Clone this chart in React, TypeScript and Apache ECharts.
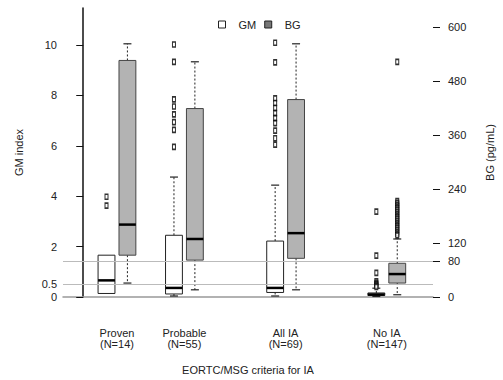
import React, { useEffect, useRef } from "react";
import * as echarts from "echarts";

// ---- data ----
const categoryNames = ["Proven", "Probable", "All IA", "No IA"];
const categoryN = [14, 55, 69, 147];
const categoryPos = [1, 3, 6, 9];

// GM index boxes
const gmLow = [0.14, 0.04, 0.04, 0.02];
const gmQ1 = [0.14, 0.12, 0.18, 0.06];
const gmMed = [0.66, 0.36, 0.36, 0.1];
const gmQ3 = [1.66, 2.45, 2.22, 0.16];
const gmHigh = [1.66, 4.76, 4.44, 0.35];
const gmOutliers = [
  [3.98, 3.63],
  [10.02, 9.33, 7.84, 7.56, 7.25, 6.94, 6.63, 5.96],
  [10.09, 9.31, 7.88, 7.7, 7.5, 7.3, 7.1, 6.9, 6.6, 6.3, 6.05],
  [3.39, 1.64, 0.96, 0.62, 0.55, 0.5, 0.45, 0.4],
];

// BG (pg/mL) boxes
const bgLow = [31, 16, 16, 5];
const bgQ1 = [93, 82, 86, 31];
const bgMed = [161, 129, 142, 51];
const bgQ3 = [526, 419, 439, 75];
const bgHigh = [563, 523, 563, 129];
const bgOutliers = [
  [],
  [],
  [],
  [523, 213, 209, 205, 201, 197, 193, 189, 185, 181, 177, 173, 169, 165, 161, 157, 153, 149, 145, 141, 137],
];

const gmTickLabels = [0, 0.5, 2, 4, 6, 8, 10];
const gmTicks = [0, 2, 4, 6, 8, 10];
const bgTicks = [0, 80, 120, 240, 360, 480, 600];
const gmCutoff = 0.5;
const bgCutoff = 80;

const FONT = "Liberation Sans, Arial, sans-serif";
const GM_MAX = 11.47;
const BG_MAX = 642.6;
const OFFSET = 0.31;

function makeRender(fill: string, stroke: string) {
  return (params: any, api: any) => {
    const x = api.value(0);
    const lo = api.coord([x, api.value(1)]);
    const q1 = api.coord([x, api.value(2)]);
    const md = api.coord([x, api.value(3)]);
    const q3 = api.coord([x, api.value(4)]);
    const hi = api.coord([x, api.value(5)]);
    const w = api.size([0.5, 0])[0];
    const cx = q1[0];
    const hw = w / 2;
    const cap = 4;
    const children: any[] = [];
    const dotted = { stroke: "#222", lineWidth: 1, lineDash: [2, 2] };
    const capStyle = { stroke: "#222", lineWidth: 1.2 };
    if (q3[1] - hi[1] > 0.5) {
      children.push({ type: "line", shape: { x1: cx, y1: q3[1], x2: cx, y2: hi[1] }, style: dotted });
      children.push({ type: "line", shape: { x1: cx - cap, y1: hi[1], x2: cx + cap, y2: hi[1] }, style: capStyle });
    }
    if (lo[1] - q1[1] > 0.5) {
      children.push({ type: "line", shape: { x1: cx, y1: q1[1], x2: cx, y2: lo[1] }, style: dotted });
      children.push({ type: "line", shape: { x1: cx - cap, y1: lo[1], x2: cx + cap, y2: lo[1] }, style: capStyle });
    }
    children.push({
      type: "rect",
      shape: { x: cx - hw, y: q3[1], width: w, height: q1[1] - q3[1] },
      style: { fill, stroke, lineWidth: 1 },
    });
    children.push({
      type: "line",
      shape: { x1: cx - hw, y1: md[1], x2: cx + hw, y2: md[1] },
      style: { stroke: "#000", lineWidth: 2.5 },
    });
    return { type: "group", children };
  };
}

export default function App() {
  const ref = useRef<HTMLDivElement>(null);
  useEffect(() => {
    if (!ref.current) return;
    const chart = echarts.init(ref.current, undefined, { renderer: "svg" });
    const gmBoxes = categoryPos.map((p, i) => [p - OFFSET, gmLow[i], gmQ1[i], gmMed[i], gmQ3[i], gmHigh[i]]);
    const bgBoxes = categoryPos.map((p, i) => [p + OFFSET, bgLow[i], bgQ1[i], bgMed[i], bgQ3[i], bgHigh[i]]);
    const gmOut: number[][] = [];
    gmOutliers.forEach((arr, i) => arr.forEach((v) => gmOut.push([categoryPos[i] - OFFSET, v])));
    const bgOut: number[][] = [];
    bgOutliers.forEach((arr, i) => arr.forEach((v) => bgOut.push([categoryPos[i] + OFFSET, v])));
    const outlierStyle = { color: "#fff", borderColor: "#000", borderWidth: 1.3 };
    const refLine = (value: number) => ({
      silent: true,
      symbol: ["none", "none"],
      label: { show: false },
      lineStyle: { color: "#bbb", type: "solid", width: 1 },
      data: [{ yAxis: value }],
    });

    chart.setOption({
      animation: false,
      backgroundColor: "#fff",
      textStyle: { fontFamily: FONT },
      grid: { left: 63, right: 56, top: 8, bottom: 78, containLabel: false },
      legend: {
        left: 213,
        top: 14,
        itemWidth: 7,
        itemHeight: 7,
        itemGap: 8,
        textStyle: { fontSize: 11, color: "#222", fontFamily: FONT, padding: [0, 0, 0, 8] },
        data: [
          { name: "GM", icon: "rect", itemStyle: { color: "#fff", borderColor: "#222", borderWidth: 1 } },
          { name: "BG", icon: "rect", itemStyle: { color: "#777", borderColor: "#222", borderWidth: 1 } },
        ],
      },
      xAxis: {
        type: "value",
        min: -0.6,
        max: 10.37,
        offset: 12,
        splitLine: { show: false },
        axisTick: { show: false },
        axisLine: { show: true, lineStyle: { color: "#999", width: 1.5 } },
        axisLabel: {
          customValues: categoryPos,
          formatter: (v: number) => {
            const i = categoryPos.indexOf(v);
            return i < 0 ? "" : categoryNames[i] + "\n(N=" + categoryN[i] + ")";
          },
          margin: 18,
          fontSize: 11,
          lineHeight: 11,
          color: "#222",
          fontFamily: FONT,
        },
        name: "EORTC/MSG criteria for IA",
        nameLocation: "middle",
        nameGap: 55,
        nameTextStyle: { fontSize: 11, color: "#222", fontFamily: FONT },
      },
      yAxis: [
        {
          type: "value",
          position: "left",
          min: 0,
          max: GM_MAX,
          offset: -6,
          splitLine: { show: false },
          axisLine: { show: true, lineStyle: { color: "#111", width: 1.5 } },
          axisTick: { show: true, length: 7, customValues: gmTicks, lineStyle: { color: "#111", width: 1 } },
          axisLabel: { customValues: gmTickLabels, margin: 12, fontSize: 11, color: "#222", fontFamily: FONT },
          name: "GM index",
          nameLocation: "middle",
          nameRotate: 90,
          nameGap: 45,
          nameTextStyle: { fontSize: 11, color: "#222", fontFamily: FONT },
        },
        {
          type: "value",
          position: "right",
          min: 0,
          max: BG_MAX,
          splitLine: { show: false },
          axisLine: { show: false },
          axisTick: { show: true, length: 7, customValues: bgTicks, lineStyle: { color: "#111", width: 1 } },
          axisLabel: { customValues: bgTicks, margin: 15, fontSize: 11, color: "#222", fontFamily: FONT },
          name: "BG (pg/mL)",
          nameLocation: "middle",
          nameRotate: 90,
          nameGap: 51,
          nameTextStyle: { fontSize: 11, color: "#222", fontFamily: FONT },
        },
      ],
      series: [
        { name: "gmRef", type: "scatter", yAxisIndex: 0, data: [], z: 1, markLine: refLine(gmCutoff) },
        { name: "bgRef", type: "scatter", yAxisIndex: 1, data: [], z: 1, markLine: refLine(bgCutoff) },
        {
          name: "GM",
          type: "custom",
          yAxisIndex: 0,
          z: 3,
          itemStyle: { color: "#fff", borderColor: "#222" },
          renderItem: makeRender("#fff", "#222"),
          encode: { x: 0, y: [1, 2, 3, 4, 5] },
          data: gmBoxes,
        },
        {
          name: "BG",
          type: "custom",
          yAxisIndex: 1,
          z: 3,
          itemStyle: { color: "#777", borderColor: "#222" },
          renderItem: makeRender("#b3b3b3", "#444"),
          encode: { x: 0, y: [1, 2, 3, 4, 5] },
          data: bgBoxes,
        },
        {
          name: "gmOut",
          type: "scatter",
          yAxisIndex: 0,
          z: 5,
          symbol: "rect",
          symbolSize: [3, 5],
          itemStyle: outlierStyle,
          data: gmOut,
        },
        {
          name: "bgOut",
          type: "scatter",
          yAxisIndex: 1,
          z: 5,
          symbol: "rect",
          symbolSize: [3, 5],
          itemStyle: outlierStyle,
          data: bgOut,
        },
      ],
    });
    return () => chart.dispose();
  }, []);
  return <div ref={ref} style={{ position: "fixed", left: 0, top: 0, width: 503, height: 380 }} />;
}
